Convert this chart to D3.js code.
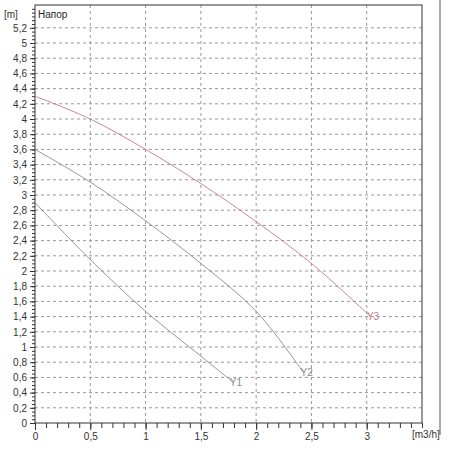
<!DOCTYPE html><html><head><meta charset="utf-8"><script src="https://cdn.jsdelivr.net/npm/d3@7"></script>
<style>body{margin:0;background:#fff}text{font-family:Arial,"Liberation Sans",sans-serif}</style></head><body><svg id="c" width="450" height="450"></svg><script>
const xTicks=[0,0.5,1,1.5,2,2.5,3];
const xTickLabels=["0","0,5","1","1,5","2","2,5","3"];
const yTicks=d3.range(0,5.21,0.2).map(v=>+v.toFixed(1));
const y1X=[0,0.5,1,1.5,1.78], y1Y=[2.9,2.15,1.47,0.88,0.55];
const y2X=[0,0.5,1,1.5,2,2.42], y2Y=[3.6,3.17,2.66,2.1,1.47,0.68];
const y3X=[0,0.5,1,1.5,2,2.5,3.02], y3Y=[4.3,4.0,3.6,3.15,2.65,2.1,1.42];
const svg=d3.select("#c");
const x=d3.scaleLinear().domain([0,3.5]).range([35,422]);
const y=d3.scaleLinear().domain([0,5.5]).range([423,5]);
const g=svg.append("g");
g.selectAll(".gx").data(xTicks.slice(1)).join("line").attr("x1",d=>x(d)).attr("x2",d=>x(d)).attr("y1",5).attr("y2",423).attr("stroke","#999").attr("stroke-dasharray","3,3");
g.selectAll(".gy").data(yTicks.slice(1)).join("line").attr("y1",d=>y(d)).attr("y2",d=>y(d)).attr("x1",35).attr("x2",422).attr("stroke","#999").attr("stroke-dasharray","3,3");
g.append("rect").attr("x",35).attr("y",5).attr("width",387).attr("height",418).attr("fill","none").attr("stroke","#333");
svg.append("line").attr("x1",440).attr("x2",440).attr("y1",0).attr("y2",435).attr("stroke","#555");
svg.append("g").attr("transform","translate(0,423)").call(d3.axisBottom(x).tickValues(d3.range(0,3.51,0.1)).tickSize(5).tickFormat(""));
svg.append("g").attr("transform","translate(0,423)").call(d3.axisBottom(x).tickValues(xTicks).tickSize(7).tickFormat((d,i)=>xTickLabels[i]));
svg.append("g").attr("transform","translate(35,0)").call(d3.axisLeft(y).tickValues(d3.range(0,5.5,0.05)).tickSize(3).tickFormat(""));
svg.append("g").attr("transform","translate(35,0)").call(d3.axisLeft(y).tickValues(yTicks).tickSize(5).tickFormat(d=>String(d).replace(".",",")));
svg.selectAll(".domain").remove();
svg.selectAll(".tick line").attr("stroke","#333");
svg.selectAll(".tick text").attr("font-size",10).attr("fill","#333");
svg.append("text").attr("x",4).attr("y",18).attr("font-size",10).attr("fill","#333").text("[m]");
svg.append("text").attr("x",38).attr("y",18).attr("font-size",10).attr("fill","#222").text("Напор");
svg.append("text").attr("x",412).attr("y",438).attr("font-size",10).attr("fill","#333").text("[m3/h]");
const line=d3.line().curve(d3.curveCatmullRom);
[[y1X,y1Y,"#8a8a8a","Y1"],[y2X,y2Y,"#8a8a8a","Y2"],[y3X,y3Y,"#c47a88","Y3"]].forEach(([xs,ys,c,l])=>{
 const pts=xs.map((v,i)=>[x(v),y(ys[i])]);
 svg.append("path").attr("d",line(pts)).attr("fill","none").attr("stroke",c).attr("stroke-width",0.9);
 const p=pts[pts.length-1];
 svg.append("text").attr("x",p[0]-2).attr("y",p[1]+5).attr("font-size",10).attr("fill",c).text(l);
});
</script></body></html>
